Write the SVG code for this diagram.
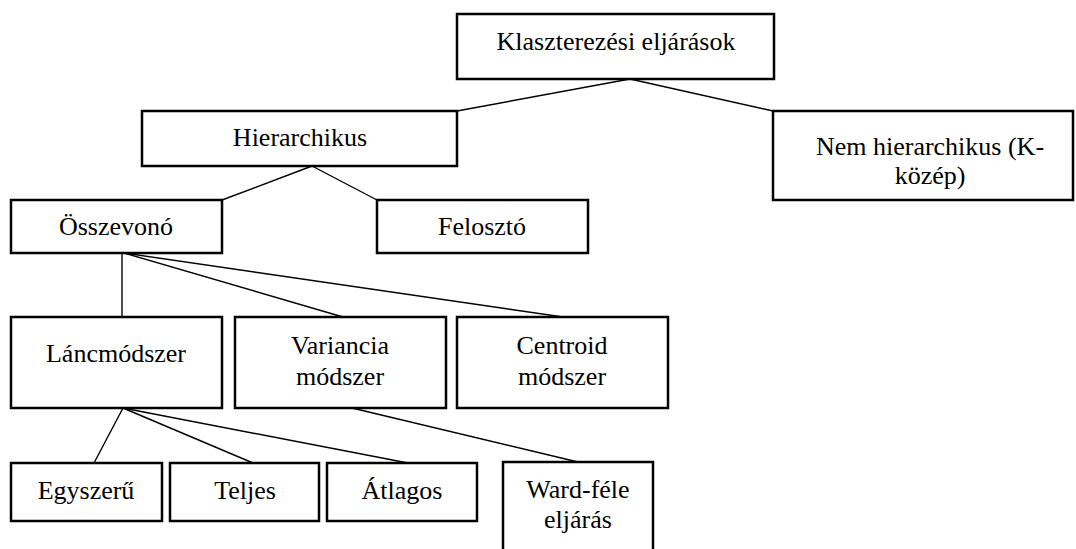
<svg xmlns="http://www.w3.org/2000/svg" width="1076" height="549" viewBox="0 0 1076 549">
<style>
.box{fill:#fff;stroke:#000;stroke-width:2.5}
.lbl{font-family:"Liberation Serif","Times New Roman",serif;font-size:26px;fill:#000;text-anchor:middle}
.con line{stroke:#000;stroke-width:1.4}
</style>
<rect width="1076" height="549" fill="#fff"/>
<g id="connectors" class="con">
<line x1="630" y1="79" x2="457" y2="111"/>
<line x1="630" y1="79" x2="773" y2="111"/>
<line x1="312" y1="166" x2="222" y2="200"/>
<line x1="312" y1="166" x2="377" y2="200"/>
<line x1="122" y1="253" x2="122" y2="317"/>
<line x1="124" y1="253" x2="343" y2="317"/>
<line x1="124" y1="253" x2="563" y2="317"/>
<line x1="123" y1="408" x2="94" y2="463"/>
<line x1="123" y1="408" x2="253" y2="463"/>
<line x1="123" y1="408" x2="408" y2="463"/>
<line x1="352" y1="408" x2="578" y2="462"/>
</g>
<g id="n-klaszter"><rect class="box" x="457" y="14" width="317" height="65"/><text class="lbl" x="616" y="50">Klaszterezési eljárások</text></g>
<g id="n-hier"><rect class="box" x="142" y="111" width="315" height="55"/><text class="lbl" x="300" y="146">Hierarchikus</text></g>
<g id="n-nemhier"><rect class="box" x="773" y="111" width="300" height="89"/><text class="lbl" x="930" y="155">Nem hierarchikus (K-</text><text class="lbl" x="930" y="184">közép)</text></g>
<g id="n-osszevono"><rect class="box" x="11" y="200" width="211" height="53"/><text class="lbl" x="116" y="235">Összevonó</text></g>
<g id="n-feloszto"><rect class="box" x="377" y="200" width="211" height="53"/><text class="lbl" x="482" y="235">Felosztó</text></g>
<g id="n-lanc"><rect class="box" x="11" y="317" width="211" height="91"/><text class="lbl" x="116" y="362">Láncmódszer</text></g>
<g id="n-variancia"><rect class="box" x="235" y="317" width="211" height="91"/><text class="lbl" x="340" y="354">Variancia</text><text class="lbl" x="340" y="385">módszer</text></g>
<g id="n-centroid"><rect class="box" x="457" y="317" width="211" height="91"/><text class="lbl" x="562" y="354">Centroid</text><text class="lbl" x="562" y="385">módszer</text></g>
<g id="n-egyszeru"><rect class="box" x="11" y="463" width="151" height="58"/><text class="lbl" x="86" y="499">Egyszerű</text></g>
<g id="n-teljes"><rect class="box" x="170" y="463" width="149" height="58"/><text class="lbl" x="245" y="499">Teljes</text></g>
<g id="n-atlagos"><rect class="box" x="327" y="463" width="150" height="58"/><text class="lbl" x="402" y="499">Átlagos</text></g>
<g id="n-ward"><rect class="box" x="503" y="462" width="150" height="100"/><text class="lbl" x="578" y="498">Ward-féle</text><text class="lbl" x="578" y="528">eljárás</text></g>
</svg>
